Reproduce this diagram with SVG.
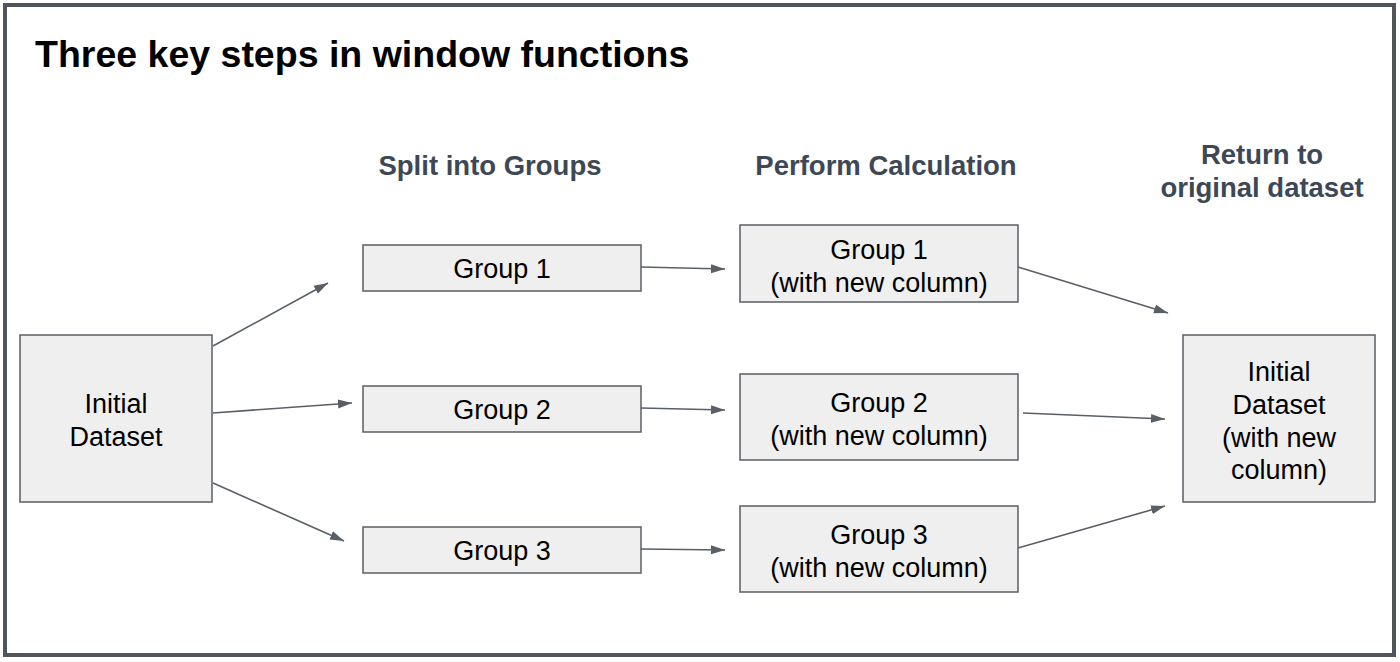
<svg xmlns="http://www.w3.org/2000/svg" width="1400" height="662" viewBox="0 0 1400 662">
<defs>
<style>
.box{fill:#efefef;stroke:#595f66;stroke-width:1.5}
.t{font-family:"Liberation Sans",Arial,sans-serif;font-size:27px;fill:#000;text-anchor:middle}
.h{font-family:"Liberation Sans",Arial,sans-serif;font-size:27.5px;font-weight:bold;fill:#3c4856;text-anchor:middle}
.c{stroke:#595f66;stroke-width:1.6;fill:none;marker-end:url(#ah)}
</style>
<marker id="ah" viewBox="0 0 14 10" refX="14" refY="5" markerWidth="14" markerHeight="10" markerUnits="userSpaceOnUse" orient="auto"><path d="M0,0.5 L14,5 L0,9.5 z" fill="#595f66"/></marker>
</defs>
<rect x="0" y="0" width="1400" height="662" fill="#fff"/>
<rect x="5" y="5" width="1389" height="650" fill="none" stroke="#50555b" stroke-width="4"/>
<text x="35" y="67" font-family="Liberation Sans,Arial,sans-serif" font-size="37.5" font-weight="bold" fill="#000">Three key steps in window functions</text>
<g id="headers">
<text class="h" x="490" y="175">Split into Groups</text>
<text class="h" x="886" y="175">Perform Calculation</text>
<text class="h" x="1262" y="164">Return to</text>
<text class="h" x="1262" y="197">original dataset</text>
</g>
<g id="initial"><rect class="box" x="20" y="335" width="192" height="167"/><text class="t" x="116" y="413">Initial</text><text class="t" x="116" y="446">Dataset</text></g>
<g id="group1"><rect class="box" x="363" y="245" width="278" height="46"/><text class="t" x="502" y="278">Group 1</text></g>
<g id="group2"><rect class="box" x="363" y="386" width="278" height="46"/><text class="t" x="502" y="419">Group 2</text></g>
<g id="group3"><rect class="box" x="363" y="527" width="278" height="46"/><text class="t" x="502" y="560">Group 3</text></g>
<g id="calc1"><rect class="box" x="740" y="225" width="278" height="77"/><text class="t" x="879" y="259">Group 1</text><text class="t" x="879" y="292">(with new column)</text></g>
<g id="calc2"><rect class="box" x="740" y="374" width="278" height="86"/><text class="t" x="879" y="412">Group 2</text><text class="t" x="879" y="445">(with new column)</text></g>
<g id="calc3"><rect class="box" x="740" y="506" width="278" height="86"/><text class="t" x="879" y="544">Group 3</text><text class="t" x="879" y="577">(with new column)</text></g>
<g id="result"><rect class="box" x="1183" y="335" width="192" height="167"/><text class="t" x="1279" y="381">Initial</text><text class="t" x="1279" y="414">Dataset</text><text class="t" x="1279" y="447">(with new</text><text class="t" x="1279" y="479">column)</text></g>
<g id="connectors">
<line class="c" x1="213" y1="346" x2="328" y2="283"/>
<line class="c" x1="213" y1="413" x2="352" y2="403"/>
<line class="c" x1="213" y1="483" x2="344" y2="541"/>
<line class="c" x1="641" y1="267" x2="725" y2="269"/>
<line class="c" x1="641" y1="408" x2="725" y2="410"/>
<line class="c" x1="641" y1="549" x2="725" y2="550"/>
<line class="c" x1="1018" y1="267" x2="1168" y2="313"/>
<line class="c" x1="1023" y1="413" x2="1165" y2="419"/>
<line class="c" x1="1018" y1="548" x2="1165" y2="506"/>
</g>
</svg>
